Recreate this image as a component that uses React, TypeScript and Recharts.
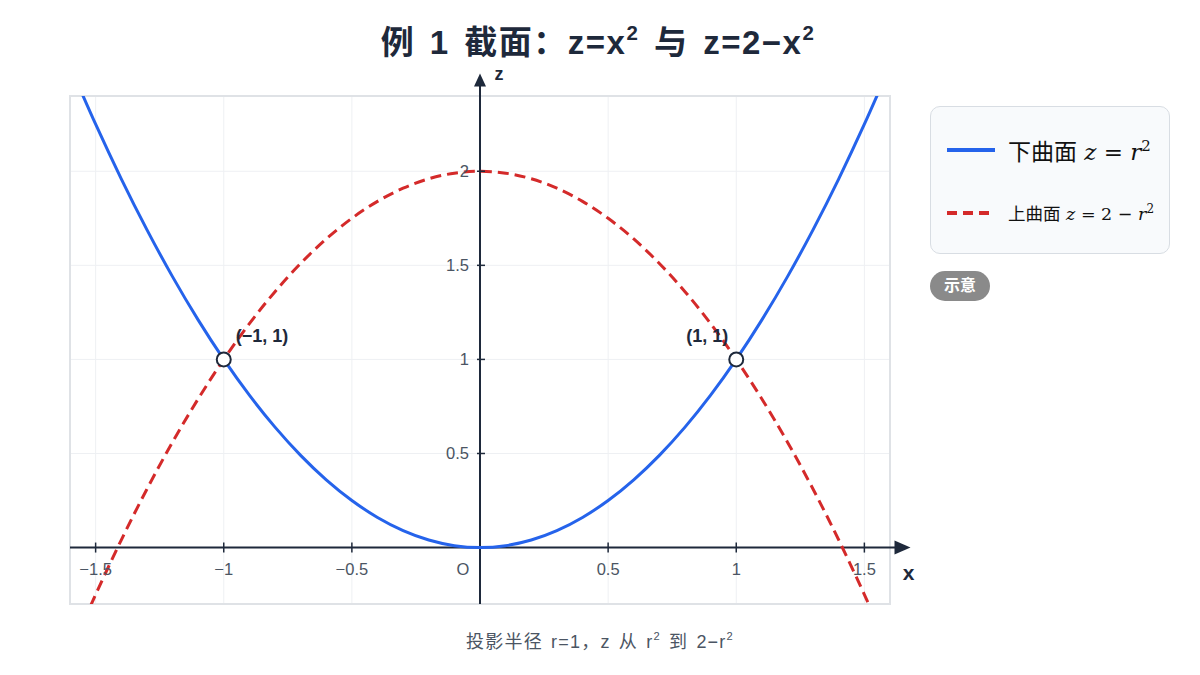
import {
  CartesianGrid,
  Line,
  LineChart,
  ReferenceArea,
  ReferenceDot,
  ReferenceLine,
  XAxis,
  YAxis
} from "recharts";

const xValues = [
  -1.6, -1.5, -1.4, -1.3, -1.2, -1.1, -1.0, -0.9, -0.8, -0.7, -0.6, -0.5, -0.4, -0.3, -0.2, -0.1, 0,
  0.1, 0.2, 0.3, 0.4, 0.5, 0.6, 0.7, 0.8, 0.9, 1.0, 1.1, 1.2, 1.3, 1.4, 1.5, 1.6
];
// lower surface z = r^2
const lowerValues = [
  2.56, 2.25, 1.96, 1.69, 1.44, 1.21, 1.0, 0.81, 0.64, 0.49, 0.36, 0.25, 0.16, 0.09, 0.04, 0.01, 0,
  0.01, 0.04, 0.09, 0.16, 0.25, 0.36, 0.49, 0.64, 0.81, 1.0, 1.21, 1.44, 1.69, 1.96, 2.25, 2.56
];
// upper surface z = 2 - r^2
const upperValues = [
  -0.56, -0.25, 0.04, 0.31, 0.56, 0.79, 1.0, 1.19, 1.36, 1.51, 1.64, 1.75, 1.84, 1.91, 1.96, 1.99, 2,
  1.99, 1.96, 1.91, 1.84, 1.75, 1.64, 1.51, 1.36, 1.19, 1.0, 0.79, 0.56, 0.31, 0.04, -0.25, -0.56
];

const xDomain = [-1.6, 1.6];
const zDomain = [-0.3, 2.4];
const xGridTicks = [-1.5, -1, -0.5, 0, 0.5, 1, 1.5];
const zGridTicks = [0, 0.5, 1, 1.5, 2];
const xTickLabels = [
  { value: -1.5, text: "−1.5" },
  { value: -1, text: "−1" },
  { value: -0.5, text: "−0.5" },
  { value: 0.5, text: "0.5" },
  { value: 1, text: "1" },
  { value: 1.5, text: "1.5" }
];
const zTickLabels = [
  { value: 0.5, text: "0.5" },
  { value: 1, text: "1" },
  { value: 1.5, text: "1.5" },
  { value: 2, text: "2" }
];
const intersections = [
  { x: -1, z: 1, label: "(−1, 1)" },
  { x: 1, z: 1, label: "(1, 1)" }
];

const data = xValues.map((x, i) => ({ x, lower: lowerValues[i], upper: upperValues[i] }));

const BLUE = "#2563eb";
const RED = "#d42a2a";
const INK = "#1e293b";
const SANS = "'Liberation Sans', 'Noto Sans CJK SC', sans-serif";
const SERIF = "'DejaVu Serif', 'Noto Sans CJK SC', serif";

const supStyle = { fontSize: "0.62em", position: "relative" as const, top: "-0.7em", verticalAlign: "baseline" };

function XAxisShape(props: any) {
  const { x1, y1, x2 } = props;
  return (
    <g>
      <line x1={x1} y1={y1} x2={x2 - 12} y2={y1} stroke={INK} strokeWidth={2} />
      <polygon points={`${x2},${y1} ${x2 - 16},${y1 - 7} ${x2 - 16},${y1 + 7}`} fill={INK} />
      <text x={x2 - 2} y={y1 + 32} textAnchor="middle" fontSize={21} fontWeight={700} fill={INK} fontFamily={SANS}>
        x
      </text>
    </g>
  );
}

function ZAxisShape(props: any) {
  const { x1, y1, y2 } = props;
  return (
    <g>
      <line x1={x1} y1={y1} x2={x1} y2={y2 + 10} stroke={INK} strokeWidth={2} />
      <polygon points={`${x1},${y2} ${x1 - 6},${y2 + 13} ${x1 + 6},${y2 + 13}`} fill={INK} />
      <text x={x1 + 19} y={y2 + 7} textAnchor="middle" fontSize={18} fontWeight={700} fill={INK} fontFamily={SANS}>
        z
      </text>
    </g>
  );
}

function xTickShape(text: string) {
  return (props: any) => (
    <g>
      <line x1={props.cx} y1={props.cy - 5} x2={props.cx} y2={props.cy + 5} stroke={INK} strokeWidth={1.5} />
      <text x={props.cx} y={props.cy + 27} textAnchor="middle" fontSize={16.5} fill="#4b5563" fontFamily={SANS}>
        {text}
      </text>
    </g>
  );
}

function zTickShape(text: string) {
  return (props: any) => (
    <g>
      <line x1={props.cx - 3} y1={props.cy} x2={props.cx + 5} y2={props.cy} stroke={INK} strokeWidth={1.5} />
      <text x={props.cx - 11} y={props.cy + 6} textAnchor="end" fontSize={16.5} fill="#4b5563" fontFamily={SANS}>
        {text}
      </text>
    </g>
  );
}

function originShape(props: any) {
  return (
    <text x={props.cx - 17} y={props.cy + 27} textAnchor="middle" fontSize={16.5} fill="#4b5563" fontFamily={SANS}>
      O
    </text>
  );
}

function pointShape(label: string, x: number) {
  return (props: any) => (
    <g>
      <circle cx={props.cx} cy={props.cy} r={7} fill="#fff" stroke={INK} strokeWidth={2} />
      <text
        x={x < 0 ? props.cx + 12 : props.cx - 8}
        y={props.cy - 17}
        textAnchor={x < 0 ? "start" : "end"}
        fontSize={18}
        fontWeight={700}
        fill={INK}
        fontFamily={SANS}
      >
        {label}
      </text>
    </g>
  );
}

export default function App() {
  return (
    <div style={{ position: "absolute", left: 0, top: 0, width: 1200, height: 675, background: "#fff" }}>
      <div
        style={{
          position: "absolute",
          left: 0,
          top: 25,
          width: 1196,
          textAlign: "center",
          fontSize: 33,
          fontWeight: 700,
          color: INK,
          fontFamily: SANS,
          lineHeight: "36px",
          letterSpacing: 1.5,
          wordSpacing: 4,
          whiteSpace: "pre"
        }}
      >
        例 1 截面：z=x<span style={supStyle}>2</span> 与 z=2−x<span style={supStyle}>2</span>
      </div>

      <LineChart width={1200} height={675} data={data} margin={{ top: 96, right: 310, bottom: 71, left: 70 }}>
        <XAxis type="number" dataKey="x" domain={xDomain} ticks={xGridTicks} allowDataOverflow hide />
        <YAxis type="number" domain={zDomain} ticks={zGridTicks} allowDataOverflow hide />
        <CartesianGrid stroke="#eef0f3" strokeWidth={1} />
        <ReferenceArea
          x1={xDomain[0]}
          x2={xDomain[1]}
          y1={zDomain[0]}
          y2={zDomain[1]}
          fill="none"
          stroke="#dfe2e6"
          strokeWidth={2}
          fillOpacity={0}
        />
        {xTickLabels.map((t) => (
          <ReferenceDot key={`x${t.value}`} x={t.value} y={0} r={0} shape={xTickShape(t.text)} />
        ))}
        {zTickLabels.map((t) => (
          <ReferenceDot key={`z${t.value}`} x={0} y={t.value} r={0} shape={zTickShape(t.text)} />
        ))}
        <ReferenceDot x={0} y={0} r={0} shape={originShape} />
        <ReferenceLine
          segment={[
            { x: -1.6, y: 0 },
            { x: 1.68, y: 0 }
          ]}
          ifOverflow="visible"
          shape={XAxisShape}
        />
        <ReferenceLine
          segment={[
            { x: 0, y: -0.3 },
            { x: 0, y: 2.52 }
          ]}
          ifOverflow="visible"
          shape={ZAxisShape}
        />
        <Line
          type="monotone"
          dataKey="lower"
          stroke={BLUE}
          strokeWidth={3}
          dot={false}
          isAnimationActive={false}
        />
        <Line
          type="monotone"
          dataKey="upper"
          stroke={RED}
          strokeWidth={3}
          strokeDasharray="11 6"
          dot={false}
          isAnimationActive={false}
        />
        {intersections.map((p) => (
          <ReferenceDot key={p.label} x={p.x} y={p.z} r={7} shape={pointShape(p.label, p.x)} />
        ))}
      </LineChart>

      <div
        style={{
          position: "absolute",
          left: 930,
          top: 106,
          width: 238,
          height: 146,
          border: "1px solid #d8dde3",
          borderRadius: 10,
          background: "#f8fafc"
        }}
      >
        <div style={{ position: "absolute", left: 16, top: 26, display: "flex", alignItems: "center" }}>
          <svg width={48} height={10}>
            <line x1={0} y1={5} x2={48} y2={5} stroke={BLUE} strokeWidth={4} />
          </svg>
          <span style={{ marginLeft: 13, fontSize: 23, color: "#111", fontFamily: SERIF, whiteSpace: "nowrap" }}>
            下曲面 <i>z</i> = <i>r</i>
            <sup style={{ fontSize: 15 }}>2</sup>
          </span>
        </div>
        <div style={{ position: "absolute", left: 16, top: 93, display: "flex", alignItems: "center" }}>
          <svg width={48} height={10}>
            <line x1={0} y1={5} x2={48} y2={5} stroke={RED} strokeWidth={4} strokeDasharray="10 6" />
          </svg>
          <span style={{ marginLeft: 13, fontSize: 17.5, color: "#111", fontFamily: SERIF, whiteSpace: "nowrap" }}>
            上曲面 <i>z</i> = 2 − <i>r</i>
            <sup style={{ fontSize: 12 }}>2</sup>
          </span>
        </div>
      </div>

      <div
        style={{
          position: "absolute",
          left: 930,
          top: 271,
          width: 60,
          height: 30,
          borderRadius: 15,
          background: "#8a8a8a",
          color: "#fff",
          fontSize: 16,
          fontWeight: 700,
          fontFamily: SANS,
          lineHeight: "30px",
          textAlign: "center"
        }}
      >
        示意
      </div>

      <div
        style={{
          position: "absolute",
          left: 0,
          top: 629,
          width: 1200,
          textAlign: "center",
          fontSize: 18,
          color: "#4b5563",
          fontFamily: SANS,
          lineHeight: "26px",
          letterSpacing: 1.2,
          wordSpacing: 2,
          whiteSpace: "pre"
        }}
      >
        投影半径 r=1，z 从 r<span style={supStyle}>2</span> 到 2−r<span style={supStyle}>2</span>
      </div>
    </div>
  );
}
